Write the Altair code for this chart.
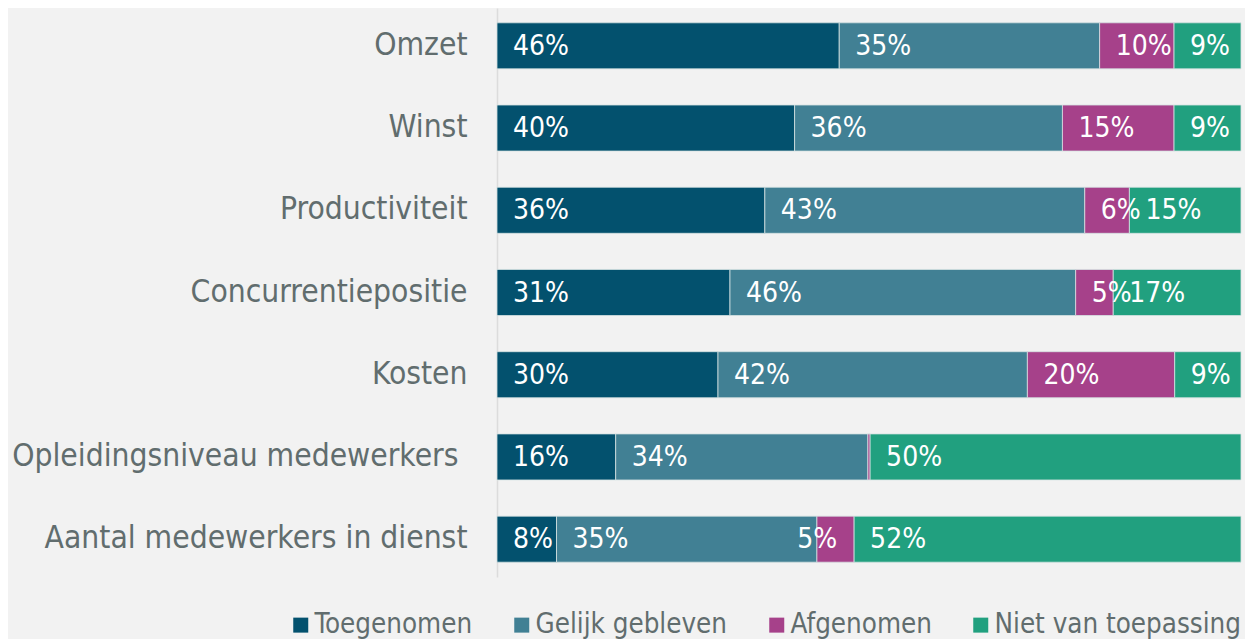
import altair as alt
import pandas as pd

categories = [
    "Omzet",
    "Winst",
    "Productiviteit",
    "Concurrentiepositie",
    "Kosten",
    "Opleidingsniveau medewerkers",
    "Aantal medewerkers in dienst",
]
series = ["Toegenomen", "Gelijk gebleven", "Afgenomen", "Niet van toepassing"]
colors = ["#03516E", "#418094", "#A6418A", "#21A07F"]

toegenomen = [46, 40, 36, 31, 30, 16, 8]
gelijk = [35, 36, 43, 46, 42, 34, 35]
afgenomen = [10, 15, 6, 5, 20, 0.3, 5]
niet = [9, 9, 15, 17, 9, 50, 52]

rows = []
for s_i, (s, vals) in enumerate(zip(series, [toegenomen, gelijk, afgenomen, niet])):
    for c, v in zip(categories, vals):
        rows.append({
            "cat": c,
            "series": s,
            "order": s_i,
            "value": v,
            "label": f"{round(v)}%" if v >= 1 else "",
        })
df = pd.DataFrame(rows)

FONT = "DejaVu Sans Condensed"
GRAY = "#616D6E"

# label that the reference draws pulled back against the end of its segment
shifted = "datum.cat == 'Aantal medewerkers in dienst' && datum.series == 'Afgenomen'"

base = alt.Chart(df).transform_stack(
    stack="value",
    as_=["x0", "x1"],
    groupby=["cat"],
    sort=[alt.SortField("order", order="ascending")],
    offset="normalize",
)

yenc = alt.Y(
    "cat:N",
    sort=categories,
    title=None,
    scale=alt.Scale(paddingInner=0.44, paddingOuter=0.18),
    axis=alt.Axis(
        labelFont=FONT,
        labelFontSize=31.5,
        labelColor=GRAY,
        labelPadding={
            "condition": {"test": "datum.value == 'Opleidingsniveau medewerkers'", "value": 39},
            "value": 30,
        },
        ticks=False,
        domainColor="#DCDCDC",
        domainWidth=1.5,
        labelLimit=600,
    ),
)

bars = base.mark_bar(stroke="#D5E2E2", strokeWidth=0.8).encode(
    y=yenc,
    x=alt.X("x0:Q", axis=None, scale=alt.Scale(domain=[0, 1], nice=False)),
    x2="x1:Q",
    color=alt.Color(
        "series:N",
        sort=series,
        scale=alt.Scale(domain=series, range=colors),
        legend=alt.Legend(
            title=None,
            orient="none",
            direction="horizontal",
            legendX=-210,
            legendY=603,
            symbolType="square",
            symbolSize=225,
            symbolStrokeWidth=0,
            symbolOpacity=1,
            labelFont=FONT,
            labelFontSize=27.5,
            labelColor=GRAY,
            labelOffset=0,
            columnPadding=35,
            labelLimit=400,
        ),
    ),
)

labels = base.transform_filter("datum.label != ''").transform_filter(
    "!(" + shifted + ")"
).mark_text(
    align="left", baseline="middle", dx=16, dy=1, color="white", font=FONT, fontSize=28
).encode(
    y=alt.Y("cat:N", sort=categories),
    x=alt.X("x0:Q"),
    text="label:N",
)

labels_end = base.transform_filter(shifted).mark_text(
    align="right", baseline="middle", dx=-17, dy=1, color="white", font=FONT, fontSize=28
).encode(
    y=alt.Y("cat:N", sort=categories),
    x=alt.X("x1:Q"),
    text="label:N",
)

chart = (bars + labels + labels_end).properties(
    width=744,
    height=569,
    autosize=alt.AutoSizeParams(type="none"),
    padding={"left": 489, "top": 0, "right": 4, "bottom": 62},
    background="#F2F2F2",
).configure_view(stroke=None)

chart.save("out.html", embed_options={"renderer": "svg", "actions": False})
